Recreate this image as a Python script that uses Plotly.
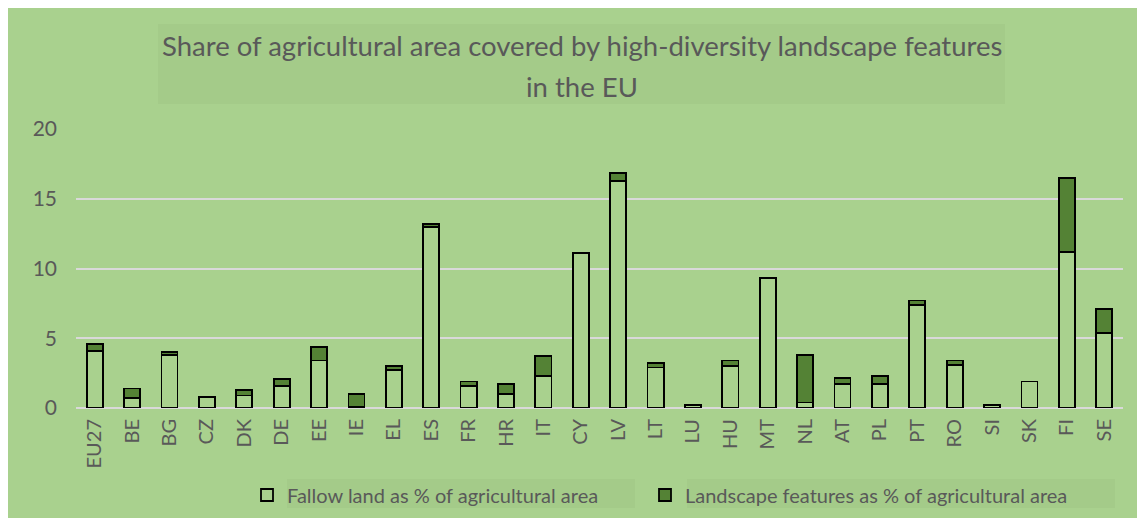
import plotly.graph_objects as go

categories = ["EU27", "BE", "BG", "CZ", "DK", "DE", "EE", "IE", "EL", "ES", "FR", "HR", "IT", "CY",
              "LV", "LT", "LU", "HU", "MT", "NL", "AT", "PL", "PT", "RO", "SI", "SK", "FI", "SE"]
fallow = [4.1, 0.7, 3.8, 0.8, 0.9, 1.6, 3.4, 0.05, 2.75, 13.0, 1.6, 1.0, 2.3, 11.1,
          16.3, 2.9, 0.2, 3.0, 9.3, 0.4, 1.7, 1.7, 7.4, 3.1, 0.2, 1.9, 11.2, 5.4]
landscape = [0.5, 0.7, 0.2, 0.0, 0.4, 0.5, 1.0, 0.95, 0.25, 0.2, 0.3, 0.7, 1.4, 0.0,
             0.55, 0.3, 0.0, 0.4, 0.0, 3.4, 0.43, 0.6, 0.3, 0.3, 0.0, 0.0, 5.3, 1.7]
y_ticks = [0, 5, 10, 15, 20]

series_names = ["Fallow land as % of agricultural area",
                "Landscape features as % of agricultural area"]
title_lines = ["Share of agricultural area covered by high-diversity landscape features",
               "in the EU"]

# figure is placed at page offset (8, 8) by the default body margin
OFF = 8
W, H = 1137, 510
L, R, T, B = 68, 22, 121, 110
PW, PH = W - L - R, H - T - B

def px(p):
    return (p - OFF - L) / PW

def py(p):
    return (H - B - (p - OFF)) / PH

BG = "#A9D18E"
BOX = "#A4CB89"
DARK = "#548235"
TXT = "#595959"
FONT = "Lato, Open Sans, sans-serif"

fig = go.Figure()
fig.add_trace(go.Bar(x=categories, y=fallow, name=series_names[0], legend="legend",
                     marker=dict(color=BG, line=dict(color="black", width=1.8))))
fig.add_trace(go.Bar(x=categories, y=landscape, name=series_names[1], legend="legend2",
                     marker=dict(color=DARK, line=dict(color="black", width=1.8))))

shapes = [
    dict(type="rect", xref="paper", yref="paper", x0=px(158), x1=px(1005), y0=py(24), y1=py(104),
         fillcolor=BOX, line=dict(width=0), layer="below"),
    dict(type="rect", xref="paper", yref="paper", x0=px(287), x1=px(635), y0=py(479), y1=py(508),
         fillcolor=BOX, line=dict(width=0), layer="below"),
    dict(type="rect", xref="paper", yref="paper", x0=px(687), x1=px(1115), y0=py(479), y1=py(508),
         fillcolor=BOX, line=dict(width=0), layer="below"),
]

annotations = [
    dict(text=title_lines[0], xref="paper", yref="paper", x=px(582), y=py(46),
         xanchor="center", yanchor="middle", showarrow=False,
         font=dict(family=FONT, size=27.5, color=TXT)),
    dict(text=title_lines[1], xref="paper", yref="paper", x=px(582), y=py(87),
         xanchor="center", yanchor="middle", showarrow=False,
         font=dict(family=FONT, size=27.5, color=TXT)),
]

legend_common = dict(orientation="h", yanchor="middle", bgcolor="rgba(0,0,0,0)",
                     font=dict(family=FONT, size=20, color=TXT), itemclick=False,
                     itemdoubleclick=False)

fig.update_layout(
    width=W, height=H,
    margin=dict(l=L, r=R, t=T, b=B, pad=0, autoexpand=False),
    paper_bgcolor=BG, plot_bgcolor=BG,
    barmode="stack", bargap=0.57,
    showlegend=True,
    legend=dict(x=px(247), y=py(495), xanchor="left", **legend_common),
    legend2=dict(x=px(645), y=py(495), xanchor="left", **legend_common),
    shapes=shapes, annotations=annotations,
    font=dict(family=FONT, color=TXT),
    xaxis=dict(tickangle=-90, showgrid=False, showline=False, zeroline=False, ticks="",
               tickfont=dict(family=FONT, size=20, color=TXT), ticklabelstandoff=6),
    yaxis=dict(range=[0, 20], tickvals=y_ticks, showgrid=True, gridcolor="#D9D9D9", gridwidth=1.5,
               zeroline=True, zerolinecolor="#D9D9D9", zerolinewidth=1.5, showline=False,
               ticks="", tickfont=dict(family=FONT, size=21, color=TXT), ticklabelstandoff=18),
)

fig.write_html("out.html")
